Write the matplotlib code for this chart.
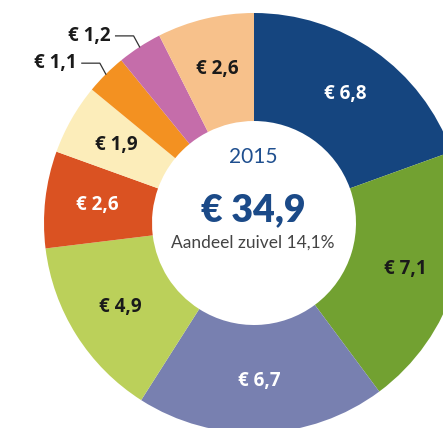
import numpy as np
import matplotlib
matplotlib.use("Agg")
import matplotlib.pyplot as plt

# data, clockwise from the top
values = [6.8, 7.1, 6.7, 4.9, 2.6, 1.9, 1.1, 1.2, 2.6]
labels = ["€ 6,8", "€ 7,1", "€ 6,7", "€ 4,9", "€ 2,6", "€ 1,9", "€ 1,1", "€ 1,2", "€ 2,6"]
colors = ["#15457f", "#72a131", "#7880b0", "#bbd05a", "#da5222",
          "#fcedba", "#f39121", "#c56daa", "#f7c18b"]
label_colors = ["white", "#1a1a1a", "white", "#1a1a1a", "white",
                "#1a1a1a", "#1a1a1a", "#1a1a1a", "#1a1a1a"]
outside = [False, False, False, False, False, False, True, True, False]
year = "2015"
total = "€ 34,9"
subtitle = "Aandeel zuivel 14,1%"

W, H = 443, 428
plt.rcParams["font.family"] = ["Lato", "DejaVu Sans"]
label_font = ["Open Sans", "DejaVu Sans"]

fig = plt.figure(figsize=(W / 100, H / 100), dpi=100)
ax = fig.add_axes([0, 0, 1, 1])

cx, cy = 254, H - 223
r_out, r_in = 210, 102

wedges, _ = ax.pie(values, colors=colors, startangle=90, counterclock=False,
                   radius=r_out, center=(cx, cy),
                   wedgeprops=dict(width=r_out - r_in, linewidth=0))

# pie() resets the limits, so set them afterwards
ax.set_xlim(0, W)
ax.set_ylim(0, H)
ax.set_aspect("equal")
ax.axis("off")

for w, lab, col, out in zip(wedges, labels, label_colors, outside):
    mid = np.deg2rad((w.theta1 + w.theta2) / 2)
    if not out:
        r = 158
        ax.text(cx + r * np.cos(mid), cy + r * np.sin(mid), lab, color=col,
                ha="center", va="center", fontsize=13.5, fontweight="bold",
                family=label_font)
    else:
        # leader line from the outer edge to the label
        x0, y0 = cx + r_out * np.cos(mid), cy + r_out * np.sin(mid)
        x1, y1 = x0 - 6, y0 + 11
        x2 = x1 - 18
        ax.plot([x0, x1, x2], [y0, y1, y1], color="#333333", lw=0.9)
        ax.text(x2 - 5, y1, lab, color=col, ha="right", va="center",
                fontsize=13.5, fontweight="bold", family=label_font)

# centre texts
ax.text(cx - 1, H - 157, year, color="#1f4f8f", ha="center", va="center", fontsize=15)
ax.text(cx - 1, H - 210, total, color="#1b4a88", ha="center", va="center",
        fontsize=27, fontweight="heavy")
ax.text(cx - 1, H - 243, subtitle, color="#444444", ha="center", va="center", fontsize=12.5)

fig.savefig("out.png", dpi=100)
